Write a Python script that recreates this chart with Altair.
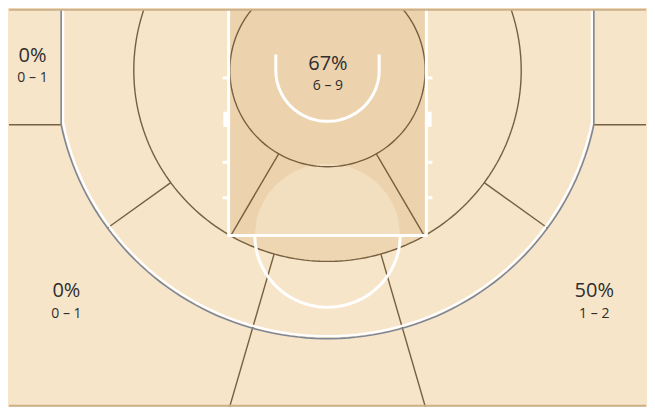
import altair as alt
import numpy as np
import pandas as pd

# ---- shot zone data (FG% and made – attempted), label anchors in court metres ----
zone_pct = ["0%", "0%", "67%", "50%"]
zone_fg = ["0 – 1", "0 – 1", "6 – 9", "1 – 2"]
zone_lx = [-7.31, -6.47, 0.01, 6.61]
zone_ly = [-0.22, 5.69, -0.02, 5.69]
zone_ly2 = [0.30, 6.21, 0.50, 6.21]

# ---- court geometry (metres, origin = basket centre, y grows toward half court) ----
VIEW_X = [-7.892, 7.892]
VIEW_Y = [-1.542, 8.458]
PAINT_HW = 2.45
FT_Y = 4.15
FT_R = 1.8
RA_R = 1.28
RA_TOP = -0.4
THREE_R_OUT, THREE_X_OUT = 6.74, 6.6
THREE_R_IN, THREE_X_IN = 6.68, 6.55
ZONE_R1, ZONE_R2 = 2.42, 4.8
HASH_Y = [0.19, 2.31, 3.2]
BLOCK_Y = [1.04, 1.42]
CORNER_Y = np.sqrt(THREE_R_OUT**2 - THREE_X_OUT**2)

W, H = 639, 399
TOP = VIEW_Y[0] - 0.2


def arc(r, t0, t1, cx=0.0, cy=0.0, n=90):
    t = np.radians(np.linspace(t0, t1, n))
    return list(cx + r * np.sin(t)), list(cy + r * np.cos(t))


def rows(paths):
    out = []
    for sid, (xs, ys) in enumerate(paths):
        for i, (a, b) in enumerate(zip(xs, ys)):
            out.append({"seg": sid, "o": i, "x": a, "y": b})
    return pd.DataFrame(out)


def three_path(r, cxn):
    tb = np.degrees(np.arcsin(cxn / r))
    yb = np.sqrt(r**2 - cxn**2)
    ax, ay = arc(r, -tb, tb)
    return [-cxn, -cxn] + ax + [cxn, cxn], [TOP, yb] + ay + [yb, TOP]


# white court lines
ra_x, ra_y = arc(RA_R, -90, 90)
ft_x, ft_y = arc(FT_R, -90, 90, cy=FT_Y)
white_paths = [
    ([-PAINT_HW, -PAINT_HW, PAINT_HW, PAINT_HW], [TOP, FT_Y, FT_Y, TOP]),
    ([-RA_R] + ra_x + [RA_R], [RA_TOP] + ra_y + [RA_TOP]),
    (ft_x, ft_y),
]
for hy in HASH_Y:
    white_paths.append(([-PAINT_HW - 0.15, -PAINT_HW], [hy, hy]))
    white_paths.append(([PAINT_HW, PAINT_HW + 0.15], [hy, hy]))
white3 = [three_path(THREE_R_IN, THREE_X_IN)]
gray3 = [three_path(THREE_R_OUT, THREE_X_OUT)]


def radial(deg, r0, r1):
    t = np.radians(deg)
    return [r0 * np.sin(t), r1 * np.sin(t)], [r0 * np.cos(t), r1 * np.cos(t)]


zone_paths = [arc(ZONE_R1, -180, 180, n=200), arc(ZONE_R2, -180, 180, n=240)]
for s in (-1, 1):
    zone_paths.append(radial(s * 30, ZONE_R1, ZONE_R2))
    zone_paths.append(radial(s * 54, ZONE_R2, THREE_R_OUT))
    zone_paths.append(radial(s * 16, ZONE_R2, 9.5))
zone_paths.append(([-8.2, -THREE_X_OUT], [CORNER_Y, CORNER_Y]))
zone_paths.append(([THREE_X_OUT, 8.2], [CORNER_Y, CORNER_Y]))

xs = alt.Scale(domain=VIEW_X, nice=False, zero=False)
ys = alt.Scale(domain=VIEW_Y, nice=False, zero=False, reverse=True)
X = lambda f="x": alt.X(f"{f}:Q", scale=xs, axis=None)
Y = lambda f="y": alt.Y(f"{f}:Q", scale=ys, axis=None)


def line_layer(paths, color, width):
    return alt.Chart(rows(paths)).mark_line(
        color=color, strokeWidth=width, clip=True, strokeCap="butt"
    ).encode(x=X(), y=Y(), detail="seg:N", order="o:Q")


# fills
seg_lim = np.sqrt(ZONE_R2**2 - FT_Y**2)
cx = np.linspace(-seg_lim, seg_lim, 80)
center_fill = pd.DataFrame({"x": cx, "y": FT_Y, "y2": np.sqrt(ZONE_R2**2 - cx**2)})
fx = np.linspace(-FT_R, FT_R, 80)
ft_fill = pd.DataFrame({"x": fx, "y": FT_Y - np.sqrt(np.maximum(FT_R**2 - fx**2, 0)), "y2": FT_Y})
paint = pd.DataFrame({"x": [-PAINT_HW], "x2": [PAINT_HW], "y": [TOP], "y2": [FT_Y]})
blocks = pd.DataFrame({
    "x": [-PAINT_HW - 0.13, PAINT_HW], "x2": [-PAINT_HW, PAINT_HW + 0.13],
    "y": [BLOCK_Y[0]] * 2, "y2": [BLOCK_Y[1]] * 2,
})
borders = pd.DataFrame({"y": [VIEW_Y[0] + 0.02, VIEW_Y[1] - 0.03]})

center_layer = alt.Chart(center_fill).mark_area(color="#eed6b2", orient="vertical", clip=True).encode(
    x=X(), y=Y(), y2="y2:Q")
paint_layer = alt.Chart(paint).mark_rect(color="#ecd3ae", clip=True).encode(
    x=X(), x2="x2:Q", y=Y(), y2="y2:Q")
ft_layer = alt.Chart(ft_fill).mark_area(color="#f2dfc0", orient="vertical", clip=True).encode(
    x=X(), y=Y(), y2="y2:Q")
block_layer = alt.Chart(blocks).mark_rect(color="white").encode(
    x=X(), x2="x2:Q", y=Y(), y2="y2:Q")
border_layer = alt.Chart(borders).mark_rule(color="#cbb089", strokeWidth=2).encode(y=Y())

labels = pd.DataFrame({"pct": zone_pct, "fg": zone_fg, "x": zone_lx, "y": zone_ly, "y2": zone_ly2})
font = "Open Sans"
pct_layer = alt.Chart(labels).mark_text(
    fontSize=20, font=font, color="#2e2e2e", baseline="alphabetic", align="center"
).encode(x=X(), y=Y(), text="pct:N")
fg_layer = alt.Chart(labels).mark_text(
    fontSize=14, font=font, color="#2e2e2e", baseline="alphabetic", align="center"
).encode(x=X(), y=Y("y2"), text="fg:N")

chart = alt.layer(
    center_layer,
    paint_layer,
    ft_layer,
    line_layer(zone_paths, "#76603f", 1.4),
    line_layer(white_paths, "white", 3),
    block_layer,
    line_layer(white3, "white", 2.2),
    line_layer(gray3, "#7e8695", 1.6),
    border_layer,
    pct_layer,
    fg_layer,
).properties(
    width=W, height=H, background="#f7e5ca",
    autosize=alt.AutoSizeParams(type="fit", contains="padding"), padding=0,
).configure_view(strokeWidth=0, fill="#f7e5ca")

chart.save("out.html", embed_options={"renderer": "svg", "actions": False})
